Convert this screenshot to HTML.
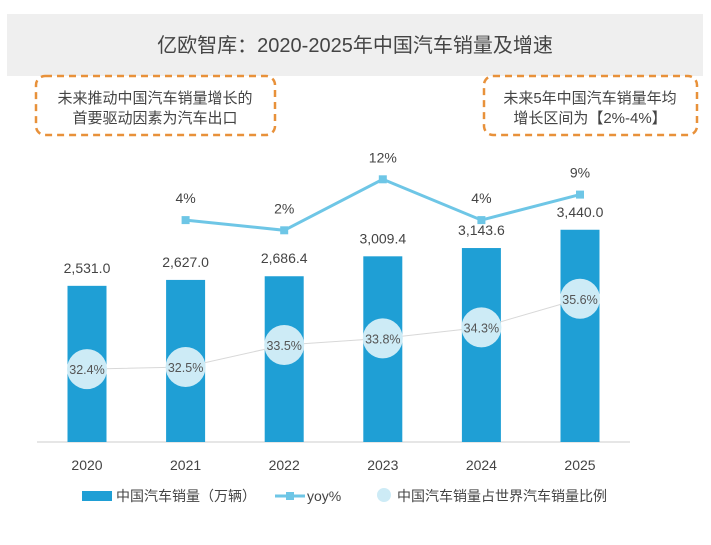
<!DOCTYPE html>
<html><head><meta charset="utf-8"><style>
body{margin:0;background:#fff;width:711px;height:540px;overflow:hidden;font-family:"Liberation Sans","Noto Sans CJK SC",sans-serif;}
</style></head><body>
<svg id="c" width="711" height="540" xmlns="http://www.w3.org/2000/svg" font-family="Liberation Sans, Noto Sans CJK SC, sans-serif">
<rect x="7" y="14" width="696" height="62" fill="#efefef"/>
<text x="355" y="52" text-anchor="middle" font-size="20" fill="#444">亿欧智库：2020-2025年中国汽车销量及增速</text>
<rect x="36" y="76" width="239" height="59" rx="9" fill="none" stroke="#e8913a" stroke-width="2.5" stroke-dasharray="7,5"/>
<text x="155" y="103" text-anchor="middle" font-size="15" fill="#444">未来推动中国汽车销量增长的</text>
<text x="155" y="123" text-anchor="middle" font-size="15" fill="#444">首要驱动因素为汽车出口</text>
<rect x="484" y="76" width="213" height="59" rx="9" fill="none" stroke="#e8913a" stroke-width="2.5" stroke-dasharray="7,5"/>
<text x="590" y="103" text-anchor="middle" font-size="15" fill="#444">未来5年中国汽车销量年均</text>
<text x="590" y="123" text-anchor="middle" font-size="15" fill="#444">增长区间为【2%-4%】</text>
<line x1="37" y1="442" x2="630" y2="442" stroke="#ddd" stroke-width="1.5"/>
<g id="marks"></g>
<rect x="82" y="491" width="30" height="10" fill="#1f9fd5"/>
<text x="116" y="501" font-size="14" fill="#444">中国汽车销量（万辆）</text>
<line x1="275" y1="496" x2="305" y2="496" stroke="#6ec6e6" stroke-width="3"/>
<rect x="286" y="492" width="8" height="8" fill="#6ec6e6"/>
<text x="307" y="501" font-size="14" fill="#444">yoy%</text>
<circle cx="384" cy="495" r="7" fill="#cdebf6"/>
<text x="397" y="501" font-size="14" fill="#444">中国汽车销量占世界汽车销量比例</text>
</svg>
<script>
const years=["2020","2021","2022","2023","2024","2025"];
const sales=[2531.0,2627.0,2686.4,3009.4,3143.6,3440.0];
const yoy=[null,4,2,12,4,9];
const share=[32.4,32.5,33.5,33.8,34.3,35.6];
const NS="http://www.w3.org/2000/svg";
const g=document.getElementById("marks");
function xc(i){return 87+i*98.6;}
function ySales(v){return 442-v*0.0617;}
function yYoy(v){return 240.5-v*5.1;}
function yShare(v){return 341-(v-33.68)*22;}
function mk(t,a){const e=document.createElementNS(NS,t);for(const k in a)e.setAttribute(k,a[k]);g.appendChild(e);return e;}
years.forEach((y,i)=>{
  const top=ySales(sales[i]);
  const r=mk("rect",{x:xc(i)-19.5,y:top,width:39,height:442-top,fill:"#1f9fd5"});
  
  
  const t=mk("text",{x:xc(i),y:top-13,"text-anchor":"middle","font-size":"14",fill:"#444"});
  t.textContent=sales[i].toLocaleString("en-US",{minimumFractionDigits:1,maximumFractionDigits:1});
  
  
  const xl=mk("text",{x:xc(i),y:470,"text-anchor":"middle","font-size":"14",fill:"#444"});
  xl.textContent=y;
  
  
});
let sp="";share.forEach((v,i)=>{sp+=(i?"L":"M")+xc(i)+" "+yShare(v);});
const sl=mk("path",{d:sp,fill:"none",stroke:"#d8d8d8","stroke-width":"1"});


share.forEach((v,i)=>{
  const c=mk("circle",{cx:xc(i),cy:yShare(v),r:20,fill:"#cdebf6"});
  
  
  const t=mk("text",{x:xc(i),y:yShare(v)+5,"text-anchor":"middle","font-size":"12.5",fill:"#555"});
  t.textContent=v.toFixed(1)+"%";
  
  
});
let yp="";let first=true;
yoy.forEach((v,i)=>{if(v===null)return;yp+=(first?"M":"L")+xc(i)+" "+yYoy(v);first=false;});
const yl=mk("path",{d:yp,fill:"none",stroke:"#6ec6e6","stroke-width":"3"});


yoy.forEach((v,i)=>{
  if(v===null)return;
  const m=mk("rect",{x:xc(i)-4,y:yYoy(v)-4,width:8,height:8,fill:"#6ec6e6"});
  
  
  const t=mk("text",{x:xc(i),y:yYoy(v)-17,"text-anchor":"middle","font-size":"14",fill:"#444"});
  t.textContent=v+"%";
  
  
});
</script>
</body></html>
